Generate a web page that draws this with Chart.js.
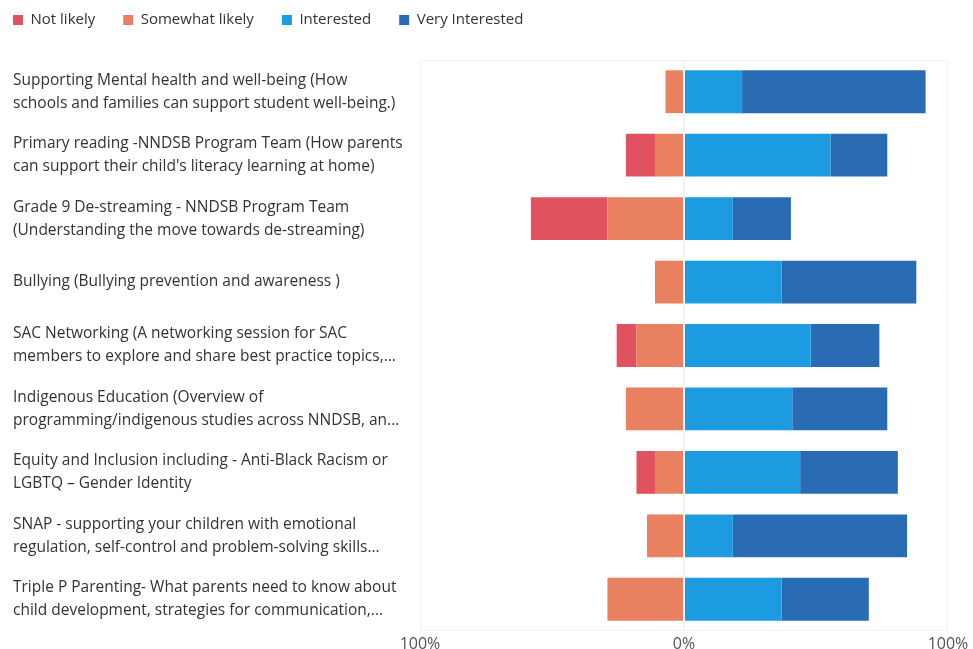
<!DOCTYPE html>
<html>
<head>
<meta charset="utf-8">
<script src="https://cdn.jsdelivr.net/npm/chart.js@4/dist/chart.umd.min.js"></script>
<style>
  html, body { margin: 0; padding: 0; background: #fff; }
  #wrap { width: 973px; height: 649px; }
</style>
</head>
<body>
<div id="wrap"><canvas id="chart"></canvas></div>
<script>
const topics = [
  ["Supporting Mental health and well-being (How", "schools and families can support student well-being.)"],
  ["Primary reading -NNDSB Program Team (How parents", "can support their child's literacy learning at home)"],
  ["Grade 9 De-streaming - NNDSB Program Team", "(Understanding the move towards de-streaming)"],
  ["Bullying (Bullying prevention and awareness )"],
  ["SAC Networking (A networking session for SAC", "members to explore and share best practice topics,..."],
  ["Indigenous Education (Overview of", "programming/indigenous studies across NNDSB, an..."],
  ["Equity and Inclusion including - Anti-Black Racism or", "LGBTQ \u2013 Gender Identity"],
  ["SNAP - supporting your children with emotional", "regulation, self-control and problem-solving skills..."],
  ["Triple P Parenting- What parents need to know about", "child development, strategies for communication,..."]
];

// percentages
const notLikely      = [0, 11, 29, 0, 7.5, 0, 7, 0, 0];
const somewhatLikely = [7, 11, 29, 11, 18, 22, 11, 14, 29];
const interested     = [22, 55.5, 18.5, 37, 48, 41, 44, 18.5, 37];
const veryInterested = [69.5, 21.5, 22, 51, 26, 36, 37, 66, 33];

const xTicks = [-100, 0, 100];

const ctx = document.getElementById("chart").getContext("2d");

/* faint box round the plot area */
const frame = {
  id: "frame",
  beforeDatasetsDraw(c) {
    const a = c.chartArea;
    const g = c.ctx;
    g.save();
    g.strokeStyle = "#f1f1f1";
    g.lineWidth = 1;
    g.strokeRect(a.left + 0.5, a.top + 0.5, a.right - a.left - 1, a.bottom - a.top - 1);
    g.restore();
  }
};

/* legend: fixed height, nudged up-left so the wide item gap doesn't push it in */
const legendFix = {
  id: "legendFix",
  beforeInit(c) {
    const fit = c.legend.fit;
    c.legend.fit = function () {
      fit.bind(c.legend)();
      this.height = 60;
    };
    const draw = c.legend.draw;
    c.legend.draw = function () {
      c.ctx.save();
      c.ctx.translate(-28, -15.5);
      draw.bind(c.legend)();
      c.ctx.restore();
    };
  }
};

// legend order differs from stacking order
const legendOrder = [1, 0, 2, 3];

new Chart(ctx, {
  type: "bar",
  data: {
    labels: topics,
    datasets: [
      { label: "Somewhat likely", data: somewhatLikely.map(v => -v), backgroundColor: "#e9805f" },
      { label: "Not likely", data: notLikely.map(v => -v), backgroundColor: "#e05260" },
      { label: "Interested", data: interested, backgroundColor: "#1c9be0" },
      { label: "Very Interested", data: veryInterested, backgroundColor: "#2a6cb4" }
    ]
  },
  options: {
    indexAxis: "y",
    responsive: true,
    maintainAspectRatio: false,
    animation: false,
    layout: { padding: { left: 13, right: 25, top: 0, bottom: 0 } },
    datasets: { bar: { categoryPercentage: 1, barPercentage: 0.675, borderWidth: 0 } },
    plugins: {
      legend: {
        position: "top",
        align: "start",
        labels: {
          boxWidth: 10,
          boxHeight: 10,
          padding: 28,
          color: "#333",
          font: { family: "'Open Sans', sans-serif", size: 15 },
          sort: (a, b) => legendOrder[a.datasetIndex] - legendOrder[b.datasetIndex]
        }
      },
      tooltip: { enabled: false }
    },
    scales: {
      x: {
        stacked: true,
        min: -100,
        max: 100,
        afterBuildTicks: axis => { axis.ticks = xTicks.map(v => ({ value: v })); },
        afterFit: axis => { axis.height = 18; },
        grid: {
          z: 1,
          drawTicks: false,
          color: c => c.tick && c.tick.value === 0 ? "#f3f3f3" : "rgba(0,0,0,0)",
          lineWidth: c => c.tick && c.tick.value === 0 ? 2 : 0
        },
        border: { display: false },
        ticks: {
          color: "#555",
          padding: 4,
          font: { family: "'Open Sans', sans-serif", size: 16 },
          callback: v => Math.abs(v) + "%"
        }
      },
      y: {
        stacked: true,
        grid: { display: false },
        border: { display: false },
        afterFit: axis => {
          axis.width = 407;
          axis.paddingTop = 0;
          axis.paddingBottom = 0;
        },
        ticks: {
          crossAlign: "far",
          color: "#333",
          padding: 0,
          font: { family: "'Open Sans', sans-serif", size: 15.5, lineHeight: 1.48 }
        }
      }
    }
  },
  plugins: [frame, legendFix]
});
</script>
</body>
</html>
